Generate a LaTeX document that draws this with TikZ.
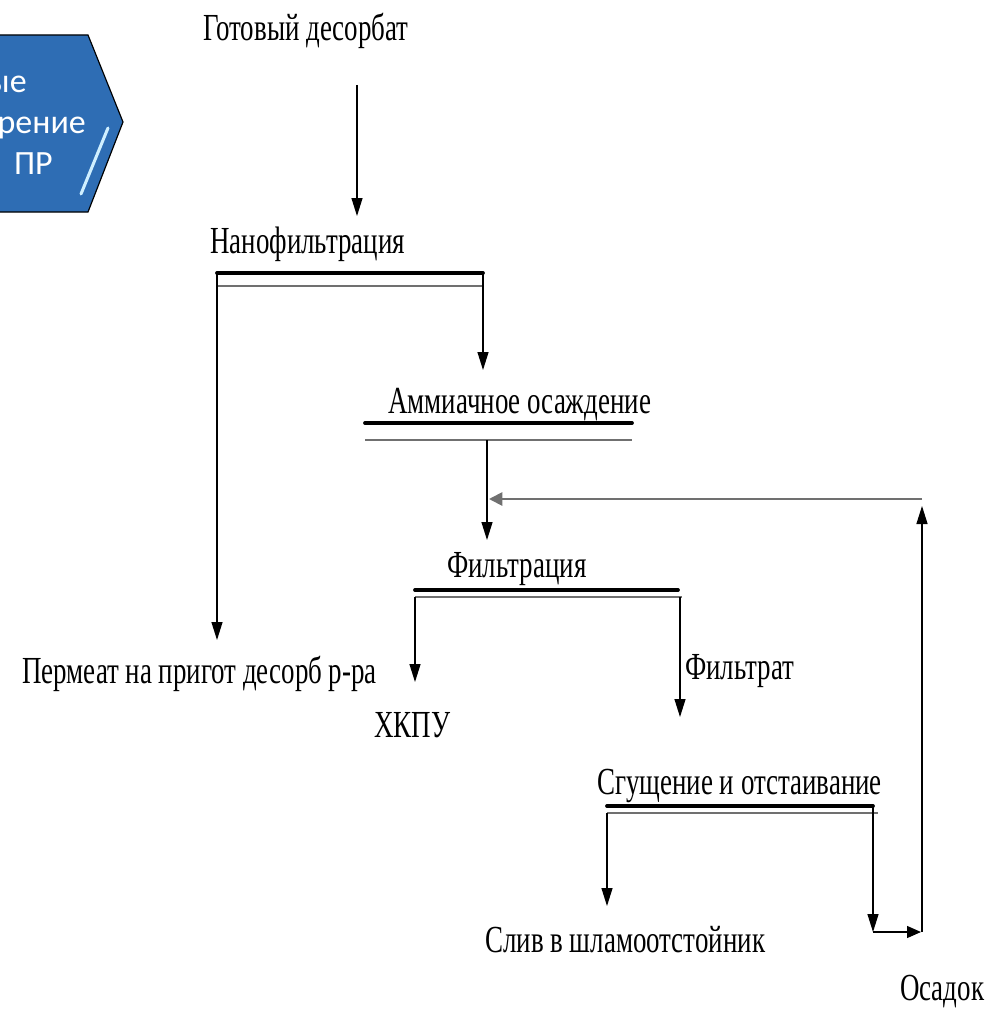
\documentclass[tikz,border=0pt]{standalone}
\usepackage{fontspec}
\setmainfont{Liberation Serif}
\newfontfamily\calibri{Carlito}
\usepackage{tikz}
\usetikzlibrary{arrows.meta}
\definecolor{blu}{HTML}{2E6DB4}
\definecolor{celeste}{HTML}{CFEFFF}
\definecolor{grigio}{HTML}{707070}

\tikzset{
  testo/.style={font=\fontsize{23}{26}\selectfont, inner sep=0pt, anchor=base west, yscale=1.42, transform shape},
  scritta/.style={white, font=\calibri\fontsize{29}{31}\selectfont, anchor=base east, inner sep=0pt},
  freccia/.style={line width=1.1pt, -{Triangle[length=0.54cm, width=0.33cm]}},
  barra/.style={line width=3.2pt, line cap=round},
  barrina/.style={grigio, line width=1.2pt}
}

\begin{document}
\begin{tikzpicture}[x=0.03cm, y=-0.03cm]
  \useasboundingbox (0,0) rectangle (989,1012);
  \clip (0,0) rectangle (989,1012);
  % Blue arrow box (cut at the left edge)
  \filldraw[fill=blu, draw=black, line width=1pt] (-10,35) -- (88,35) -- (123,122) -- (88,212) -- (-10,212) -- cycle;
  \draw[celeste, line width=2.6pt, line cap=round] (81,194) -- (108,128);
  \node[scritta] (t1) at (27,93) {ые};
  \node[scritta] (t2) at (86,134) {рение};
  \node[scritta] (t3) at (53,175) {ПР};
  % Labels
  \node[testo] (desorbat) at (203,41) {Готовый десорбат};
  \node[testo] (nano) at (210,253) {Нанофильтрация};
  \node[testo] (ammiak) at (388,413) {Аммиачное осаждение};
  \node[testo] (filtr) at (447,577) {Фильтрация};
  \node[testo] (permeat) at (22,683) {Пермеат на пригот десорб р-ра};
  \node[testo] (hkpu) at (374,737) {ХКПУ};
  \node[testo] (filtrat) at (685,679) {Фильтрат};
  \node[testo] (sgusch) at (597,794) {Сгущение и отстаивание};
  \node[testo] (sliv) at (485,952) {Слив в шламоотстойник};
  \node[testo] (osadok) at (900,1000) {Осадок};
  % Bars
  \coordinate (nanoL) at (217,273);  \coordinate (nanoR) at (483,273);
  \coordinate (ammL) at (365,423);   \coordinate (ammR) at (632,423);
  \coordinate (filL) at (415,590);   \coordinate (filR) at (678,590);
  \coordinate (sguL) at (607,806);   \coordinate (sguR) at (873,806);
  \draw[barra] (nanoL) -- (nanoR);
  \draw[barrina] (217,286) -- (483,286);
  \draw[barra] (ammL) -- (ammR);
  \draw[barrina] (365,440) -- (632,440);
  \draw[barra] (filL) -- (filR);
  \draw[barrina] (415,597) -- (682,597);
  \draw[barra] (sguL) -- (sguR);
  \draw[barrina] (607,813) -- (878,813);
  % Flows
  \coordinate (a0) at (357,85);   \coordinate (a1) at (357,216);
  \coordinate (b1) at (217,640);  \coordinate (c1) at (483,370);
  \coordinate (d0) at (487,440);  \coordinate (d1) at (487,540);
  \coordinate (e0) at (415,597);  \coordinate (e1) at (415,682);
  \coordinate (f0) at (680,597);  \coordinate (f1) at (680,717);
  \coordinate (g0) at (607,813);  \coordinate (g1) at (607,906);
  \coordinate (h0) at (873,813);  \coordinate (h1) at (873,932);
  \coordinate (k0) at (922,932);  \coordinate (k1) at (921,932);
  \coordinate (k2) at (922,506);
  \coordinate (r0) at (922,499);  \coordinate (r1) at (489,499);
  \draw[freccia] (a0) -- (a1);
  \draw[freccia] (nanoL) -- (b1);
  \draw[freccia] (nanoR) -- (c1);
  \draw[freccia] (d0) -- (d1);
  \draw[freccia] (e0) -- (e1);
  \draw[freccia] (f0) -- (f1);
  \draw[freccia] (g0) -- (g1);
  \draw[freccia] (sguR) -- (h1);
  \draw[line width=1.1pt, -{Triangle[length=0.42cm, width=0.36cm]}] (h1) -- (k1);
  \draw[freccia] (k0) -- (k2);
  \draw[grigio, line width=1.6pt, -{Triangle[length=0.4cm, width=0.4cm]}] (r0) -- (r1);
\end{tikzpicture}
\end{document}
